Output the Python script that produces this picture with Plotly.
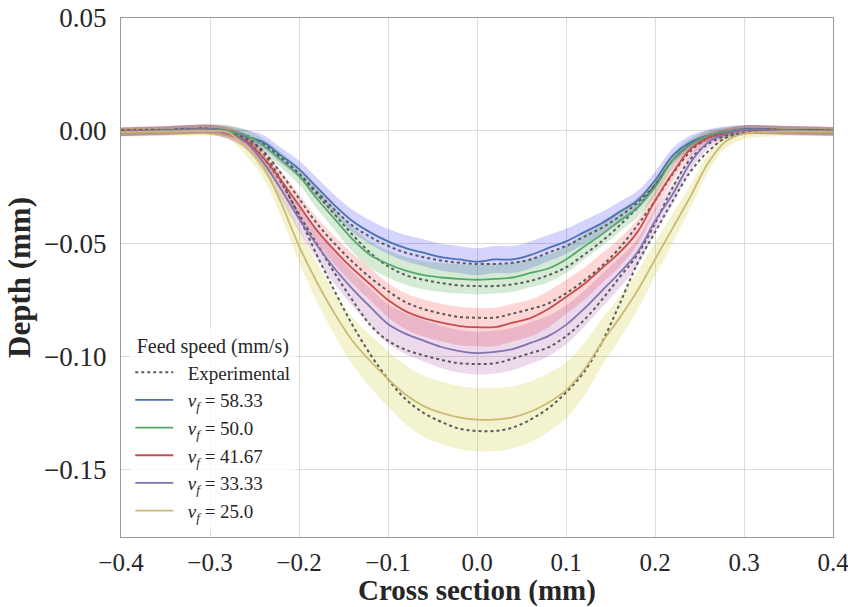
import plotly.graph_objects as go

# Cross-section positions (mm)
x_pos = [-0.40, -0.35, -0.30, -0.28, -0.26, -0.24, -0.22, -0.20, -0.18, -0.16, -0.14, -0.12,
         -0.10, -0.08, -0.06, -0.04, -0.02, 0.00, 0.02, 0.04, 0.06, 0.08, 0.10, 0.12,
         0.14, 0.16, 0.18, 0.20, 0.22, 0.24, 0.26, 0.28, 0.30, 0.35, 0.40]

feed_labels = ["58.33", "50.0", "41.67", "33.33", "25.0"]

# Mean simulated depth (mm)
mean_5833 = [-0.0005, 0.0002, 0.0008, 0.0, -0.0025, -0.005, -0.011, -0.017, -0.025, -0.033, -0.040, -0.045,
             -0.049, -0.052, -0.054, -0.056, -0.057, -0.058, -0.057, -0.057, -0.055, -0.052, -0.049, -0.045,
             -0.041, -0.036, -0.031, -0.022, -0.011, -0.005, -0.002, -0.0003, 0.0006, 0.0003, -0.0002]
mean_500 = [-0.0005, 0.0001, 0.0007, -0.0003, -0.002, -0.0066, -0.013, -0.020, -0.030, -0.039, -0.048, -0.055,
            -0.059, -0.062, -0.064, -0.065, -0.0656, -0.066, -0.0656, -0.065, -0.063, -0.061, -0.057, -0.0514,
            -0.046, -0.040, -0.034, -0.025, -0.013, -0.006, -0.002, -0.0003, 0.0005, 0.0002, -0.0003]
mean_4167 = [-0.0003, 0.0, 0.0005, -0.001, -0.0044, -0.012, -0.022, -0.033, -0.044, -0.053, -0.061, -0.068,
             -0.075, -0.080, -0.083, -0.085, -0.0865, -0.087, -0.087, -0.085, -0.083, -0.079, -0.0736, -0.068,
             -0.061, -0.054, -0.045, -0.031, -0.0186, -0.008, -0.003, -0.001, 0.0003, 0.0001, -0.0002]
mean_3333 = [-0.0004, 0.0001, 0.0006, -0.001, -0.005, -0.014, -0.026, -0.039, -0.0506, -0.061, -0.070, -0.078,
             -0.0856, -0.090, -0.093, -0.0958, -0.0976, -0.0985, -0.098, -0.0967, -0.094, -0.091, -0.086, -0.079,
             -0.071, -0.063, -0.054, -0.040, -0.028, -0.014, -0.005, -0.0013, 0.0004, 0.0002, -0.0003]
mean_250 = [-0.0006, -0.0003, 0.0, -0.0006, -0.007, -0.016, -0.032, -0.051, -0.067, -0.081, -0.093, -0.102,
            -0.110, -0.117, -0.122, -0.125, -0.127, -0.128, -0.128, -0.127, -0.1245, -0.1205, -0.115, -0.106,
            -0.094, -0.083, -0.071, -0.057, -0.043, -0.029, -0.014, -0.0045, -0.0013, -0.0003, -0.0004]

# Standard deviation of simulated depth (mm)
sd_5833 = [0.0018, 0.0018, 0.002, 0.0025, 0.003, 0.0032, 0.0035, 0.0038, 0.0042, 0.0046, 0.005, 0.0053,
           0.0056, 0.0058, 0.006, 0.006, 0.006, 0.006, 0.006, 0.006, 0.006, 0.0058, 0.0056, 0.0053,
           0.005, 0.0046, 0.0042, 0.0038, 0.0034, 0.003, 0.0026, 0.0022, 0.002, 0.0018, 0.0018]
sd_500 = [0.0018, 0.0018, 0.002, 0.0022, 0.0026, 0.003, 0.0034, 0.0038, 0.0044, 0.005, 0.0055, 0.0058,
          0.006, 0.0062, 0.0063, 0.0064, 0.0065, 0.0065, 0.0065, 0.0064, 0.0063, 0.0062, 0.006, 0.0057,
          0.0053, 0.0048, 0.0043, 0.0038, 0.0032, 0.0027, 0.0023, 0.002, 0.002, 0.0018, 0.0018]
sd_4167 = [0.002, 0.002, 0.0022, 0.0025, 0.003, 0.0036, 0.0042, 0.005, 0.0056, 0.0062, 0.0067, 0.0072,
           0.0076, 0.008, 0.0082, 0.0084, 0.0085, 0.0085, 0.0085, 0.0084, 0.0082, 0.008, 0.0076, 0.0072,
           0.0067, 0.0062, 0.0056, 0.0048, 0.004, 0.0032, 0.0026, 0.0022, 0.002, 0.002, 0.002]
sd_3333 = [0.002, 0.002, 0.0022, 0.0026, 0.0032, 0.004, 0.0048, 0.0056, 0.0063, 0.007, 0.0076, 0.0082,
           0.0087, 0.009, 0.0092, 0.0094, 0.0095, 0.0095, 0.0095, 0.0094, 0.0092, 0.009, 0.0086, 0.008,
           0.0074, 0.0067, 0.006, 0.0052, 0.0044, 0.0036, 0.0028, 0.0023, 0.002, 0.002, 0.002]
sd_250 = [0.002, 0.002, 0.0022, 0.0028, 0.0038, 0.005, 0.0062, 0.0074, 0.0085, 0.0095, 0.0105, 0.0115,
          0.0123, 0.013, 0.0135, 0.0138, 0.014, 0.014, 0.014, 0.0138, 0.0135, 0.013, 0.0123, 0.0115,
          0.0105, 0.0095, 0.0085, 0.0075, 0.0064, 0.0052, 0.004, 0.003, 0.0024, 0.002, 0.002]

# Experimental profiles (mm)
exp_5833 = [0.0, 0.0003, 0.0008, -0.0004, -0.002, -0.006, -0.012, -0.019, -0.027, -0.035, -0.042, -0.047,
            -0.051, -0.054, -0.056, -0.0575, -0.0585, -0.059, -0.059, -0.0585, -0.057, -0.054, -0.051, -0.047,
            -0.043, -0.038, -0.032, -0.024, -0.013, -0.006, -0.002, -0.0005, 0.0006, 0.0003, 0.0]
exp_500 = [0.0, 0.0003, 0.0008, -0.0004, -0.002, -0.006, -0.012, -0.019, -0.028, -0.037, -0.046, -0.054,
           -0.060, -0.064, -0.066, -0.0675, -0.0685, -0.0688, -0.0688, -0.068, -0.0665, -0.064, -0.0605, -0.055,
           -0.049, -0.042, -0.034, -0.024, -0.013, -0.006, -0.002, -0.0005, 0.0006, 0.0003, 0.0]
exp_4167 = [0.0, 0.0003, 0.0008, -0.0006, -0.003, -0.009, -0.019, -0.030, -0.041, -0.050, -0.058, -0.065,
            -0.071, -0.076, -0.079, -0.081, -0.0825, -0.0828, -0.0828, -0.081, -0.079, -0.0765, -0.072, -0.0665,
            -0.060, -0.052, -0.042, -0.031, -0.019, -0.009, -0.003, -0.001, 0.0005, 0.0003, 0.0]
exp_3333 = [0.0, 0.0003, 0.0008, -0.0005, -0.004, -0.012, -0.023, -0.037, -0.050, -0.063, -0.075, -0.086,
            -0.093, -0.097, -0.0995, -0.1015, -0.103, -0.1033, -0.103, -0.101, -0.0985, -0.096, -0.091, -0.084,
            -0.075, -0.065, -0.055, -0.041, -0.025, -0.0124, -0.0058, -0.002, 0.0004, 0.0003, 0.0]
exp_250 = [0.0, 0.0003, 0.0008, -0.0003, -0.003, -0.010, -0.022, -0.038, -0.055, -0.071, -0.086, -0.099,
           -0.110, -0.119, -0.125, -0.129, -0.132, -0.133, -0.133, -0.1315, -0.128, -0.123, -0.116, -0.107,
           -0.094, -0.077, -0.059, -0.045, -0.031, -0.018, -0.009, -0.003, -0.001, 0.0002, 0.0]

means = [mean_5833, mean_500, mean_4167, mean_3333, mean_250]
sds = [sd_5833, sd_500, sd_4167, sd_3333, sd_250]
exps = [exp_5833, exp_500, exp_4167, exp_3333, exp_250]

line_colors = ["#4C72B0", "#55A868", "#C44E52", "#8172B2", "#CCB974"]
band_colors = ["rgba(0,0,255,0.17)", "rgba(0,128,0,0.16)", "rgba(255,0,0,0.16)",
               "rgba(128,0,128,0.15)", "rgba(191,191,0,0.19)"]

FONT = "Liberation Serif"
SP = "\u2002"

fig = go.Figure()

# bands
for m, s, bc in zip(means, sds, band_colors):
    up = [a + b for a, b in zip(m, s)]
    lo = [a - b for a, b in zip(m, s)]
    fig.add_trace(go.Scatter(x=x_pos, y=up, mode="lines", line=dict(width=0, shape="spline"),
                             showlegend=False, hoverinfo="skip"))
    fig.add_trace(go.Scatter(x=x_pos, y=lo, mode="lines", line=dict(width=0, shape="spline"),
                             fill="tonexty", fillcolor=bc, showlegend=False, hoverinfo="skip"))

# experimental dotted
for i, e in enumerate(exps):
    fig.add_trace(go.Scatter(x=x_pos, y=e, mode="lines",
                             line=dict(color="#5a5a5a", width=2, dash="dot", shape="spline"),
                             name=SP + "Experimental", showlegend=(i == 0), legendrank=1))

# simulated means
for k, (m, lc, lab) in enumerate(zip(means, line_colors, feed_labels)):
    fig.add_trace(go.Scatter(x=x_pos, y=m, mode="lines",
                             line=dict(color=lc, width=1.8, shape="spline"),
                             name=SP + "<i>v</i><sub><i>f</i></sub> = " + lab, legendrank=2 + k))

fig.update_layout(
    width=848, height=607,
    margin=dict(l=121, r=15, t=18, b=70, autoexpand=False),
    paper_bgcolor="white", plot_bgcolor="white",
    font=dict(family=FONT, color="#262626"),
    legend=dict(
        x=0.013, y=0.404, xanchor="left", yanchor="top",
        traceorder="normal",
        bgcolor="rgba(255,255,255,0.8)",
        font=dict(family=FONT, size=19, color="#262626"),
        title=dict(text="Feed speed (mm/s)", side="top center", font=dict(family=FONT, size=20)),
        itemwidth=38, tracegroupgap=0,
    ),
    xaxis=dict(
        range=[-0.4, 0.4], tickvals=[-0.4, -0.3, -0.2, -0.1, 0.0, 0.1, 0.2, 0.3, 0.4],
        tickformat=".1f", showgrid=True, gridcolor="#dcdcdc", gridwidth=1,
        zeroline=False, showline=True, linecolor="#9a9a9a", linewidth=1, mirror=True,
        tickfont=dict(family=FONT, size=25, color="#262626"), ticklabelstandoff=3,
        ticklabeloverflow="allow", automargin=False,
        title=dict(text="<b>Cross section (mm)</b>", font=dict(family=FONT, size=29, color="#262626"), standoff=9),
    ),
    yaxis=dict(
        range=[-0.18, 0.05], tickvals=[0.05, 0.0, -0.05, -0.10, -0.15],
        tickformat=".2f", showgrid=True, gridcolor="#dcdcdc", gridwidth=1,
        zeroline=False, showline=True, linecolor="#9a9a9a", linewidth=1, mirror=True,
        tickfont=dict(family=FONT, size=27, color="#262626"), ticklabelstandoff=8,
        ticklabeloverflow="allow", automargin=False,
        title=dict(text="<b>Depth (mm)</b>", font=dict(family=FONT, size=31, color="#262626"), standoff=4),
    ),
)

fig.write_html("out.html")
